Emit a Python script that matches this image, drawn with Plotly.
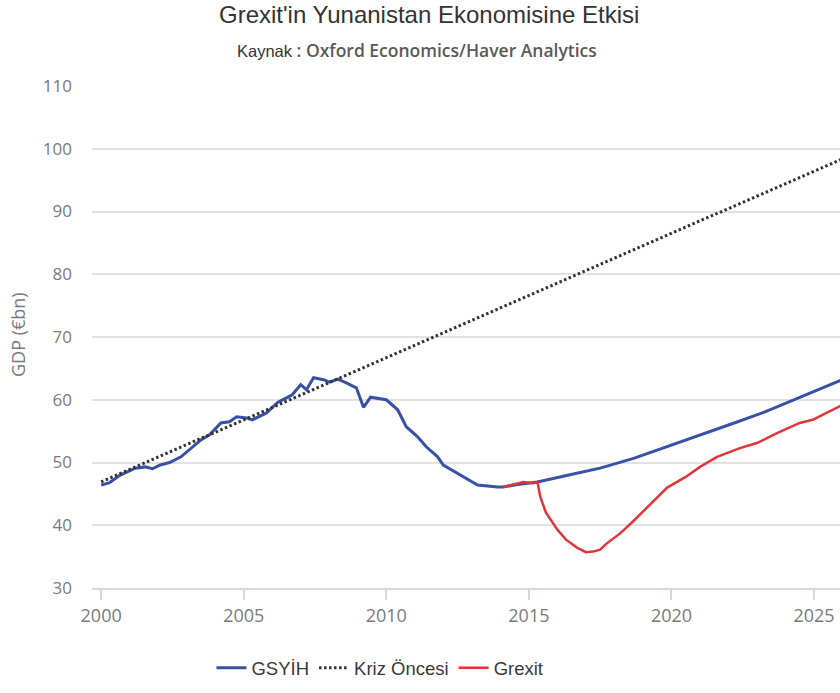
import plotly.graph_objects as go

# GSYİH (actual + baseline forecast)
gdp_years = [2000.0, 2000.3, 2000.67, 2001.2, 2001.55, 2001.8, 2002.07, 2002.4, 2002.8,
             2003.1, 2003.5, 2003.8, 2004.2, 2004.5, 2004.75, 2005.1, 2005.3, 2005.8,
             2006.2, 2006.5, 2006.7, 2007.0, 2007.2, 2007.45, 2007.8, 2008.0, 2008.3,
             2008.6, 2008.95, 2009.2, 2009.45, 2010.0, 2010.4, 2010.7, 2011.1, 2011.4,
             2011.8, 2012.0, 2012.5, 2012.9, 2013.2, 2013.9, 2014.1, 2014.6, 2015.0,
             2015.3, 2016.4, 2017.5, 2018.7, 2019.85, 2021.0, 2022.2, 2023.3, 2024.3,
             2026.0]
gdp_values = [46.4, 46.8, 48.0, 49.1, 49.3, 49.0, 49.6, 50.0, 50.9,
              52.0, 53.6, 54.4, 56.3, 56.5, 57.3, 57.1, 56.8, 57.9,
              59.6, 60.3, 60.8, 62.4, 61.6, 63.5, 63.2, 62.8, 63.3,
              62.7, 61.9, 58.8, 60.4, 60.0, 58.4, 55.7, 54.1, 52.5,
              50.9, 49.6, 48.3, 47.2, 46.4, 46.1, 46.1, 46.5, 46.7,
              46.9, 48.0, 49.1, 50.7, 52.5, 54.3, 56.3, 58.1, 60.0,
              63.2]

# Kriz Öncesi (pre-crisis trend)
trend_years = [2000, 2005, 2010, 2015, 2020, 2025, 2026]
trend_values = [46.9, 56.8, 66.7, 76.6, 86.5, 96.4, 98.4]

# Grexit scenario
grexit_years = [2014.1, 2014.6, 2014.8, 2015.15, 2015.3, 2015.4, 2015.6, 2016.0, 2016.3,
                2016.7, 2017.0, 2017.25, 2017.5, 2017.7, 2018.2, 2018.65, 2019.25,
                2019.85, 2020.5, 2021.0, 2021.6, 2022.4, 2023.0, 2023.7, 2024.5,
                2024.95, 2026.0]
grexit_values = [46.1, 46.7, 46.9, 46.7, 46.9, 44.5, 42.0, 39.3, 37.7,
                 36.4, 35.7, 35.8, 36.1, 37.0, 38.7, 40.6, 43.3,
                 46.0, 47.7, 49.3, 50.9, 52.3, 53.1, 54.7, 56.3,
                 56.8, 59.2]

x_ticks = [2000, 2005, 2010, 2015, 2020, 2025]
y_ticks = [30, 40, 50, 60, 70, 80, 90, 100, 110]

fig = go.Figure()
fig.add_trace(go.Scatter(x=gdp_years, y=gdp_values, mode="lines", name="GSYİH",
                         line=dict(color="#3850a6", width=3)))
fig.add_trace(go.Scatter(x=trend_years, y=trend_values, mode="lines", name="Kriz Öncesi",
                         line=dict(color="#333333", width=3, dash="2.5px,2.5px")))
fig.add_trace(go.Scatter(x=grexit_years, y=grexit_values, mode="lines", name="Grexit",
                         line=dict(color="#e0353b", width=2.5)))

fig.update_layout(
    width=840, height=693,
    margin=dict(l=92, r=0, t=86, b=105),
    plot_bgcolor="white", paper_bgcolor="white",
    showlegend=True,
    legend=dict(orientation="h", x=0.385, xanchor="center", y=-0.16, yanchor="middle",
                font=dict(family="Liberation Sans, Arial", size=18.5, color="#3a3a3a"),
                itemwidth=30),
    xaxis=dict(range=[1999.68, 2025.91], tickvals=x_ticks, showgrid=False,
               showline=True, linecolor="#d6d9e0", linewidth=2,
               ticks="outside", ticklen=10, tickcolor="#d6d9e0", tickwidth=1.5,
               tickfont=dict(family="Open Sans", size=18, color="#7a7a7a"),
               zeroline=False),
    yaxis=dict(range=[30, 110], tickvals=y_ticks, showgrid=True, gridcolor="#e2e2e2",
               gridwidth=1.5, zeroline=False, showline=False, ticks="",
               ticklabelstandoff=19,
               tickfont=dict(family="Open Sans", size=17, color="#7a7a7a")),
    annotations=[
        dict(text="Grexit'in Yunanistan Ekonomisine Etkisi", xref="paper", yref="paper",
             x=0.4505, y=1.143, xanchor="center", yanchor="middle", showarrow=False,
             font=dict(family="Liberation Sans, Arial", size=24, color="#333333")),
        dict(text="Kaynak<span style=\"font-family:'Open Sans';font-size:17.5px;color:#5a5a5a;font-weight:600\"> : Oxford Economics/Haver Analytics</span>",
             xref="paper", yref="paper",
             x=0.4345, y=1.072, xanchor="center", yanchor="middle", showarrow=False,
             font=dict(family="Liberation Sans, Arial", size=16.5, color="#333333")),
        dict(text="GDP (€bn)", xref="paper", yref="paper", x=-0.0989, y=0.504,
             xanchor="center", yanchor="middle", textangle=-90, showarrow=False,
             font=dict(family="Open Sans", size=18, color="#7a7a7a")),
    ],
)

fig.write_html("out.html")
